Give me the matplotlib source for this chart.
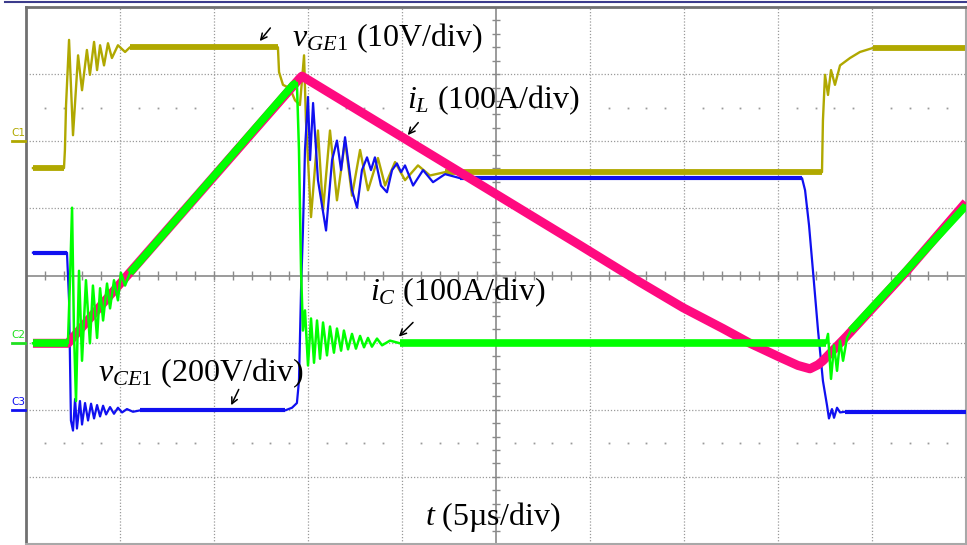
import numpy as np
import matplotlib.pyplot as plt
from matplotlib.lines import Line2D

plt.rcParams['font.family'] = 'Liberation Serif'
plt.rcParams['mathtext.fontset'] = 'custom'
plt.rcParams['mathtext.rm'] = 'Liberation Serif'
plt.rcParams['mathtext.it'] = 'Liberation Serif:italic'

# time in us (5 us/div), levels in screen divisions (8 div tall)
vge_t = [0.37, 2.02, 2.07, 2.13, 2.29, 2.50, 2.77, 2.98, 3.24, 3.40, 3.62, 3.78, 3.94,
         4.15, 4.36, 4.57, 4.89, 5.27, 5.53, 13.40, 13.46, 13.67, 14.04, 14.31, 14.57,
         14.79, 14.89, 15.16, 15.53, 15.80, 16.17, 16.54, 16.97, 17.34, 17.77, 18.19,
         18.72, 19.10, 19.63, 20.16, 20.85, 21.49, 22.29, 42.34, 42.39, 42.50, 42.66,
         42.82, 43.03, 43.30, 43.83, 44.36, 45.05, 50.00]
vge_v = [1.60, 1.60, 1.87, 2.54, 3.51, 2.09, 3.28, 2.76, 3.36, 2.99, 3.48, 3.06, 3.43,
         3.13, 3.46, 3.24, 3.43, 3.33, 3.40, 3.40, 3.03, 2.84, 2.79, 2.61, 2.54,
         3.28, 2.31, 0.87, 2.16, 0.97, 2.16, 1.12, 2.01, 1.19, 1.87, 1.27,
         1.75, 1.34, 1.69, 1.42, 1.64, 1.49, 1.54, 1.54, 2.31, 2.99, 2.69,
         3.06, 2.84, 3.13, 3.24, 3.33, 3.39, 3.39]

vce_t = [0.37, 2.18, 2.29, 2.39, 2.50, 2.61, 2.71, 2.87, 2.98, 3.14, 3.30, 3.46, 3.62,
         3.78, 3.94, 4.10, 4.26, 4.47, 4.68, 4.89, 5.11, 5.37, 5.69, 6.06, 13.78,
         14.15, 14.41, 14.52, 14.63, 14.73, 14.84, 15.00, 15.11, 15.27, 15.53, 15.96,
         16.28, 16.54, 16.76, 16.97, 17.34, 17.61, 17.87, 18.14, 18.35, 18.56, 18.88,
         19.20, 19.47, 19.73, 19.95, 20.16, 20.59, 21.12, 21.65, 22.29, 23.09, 41.28,
         41.44, 41.65, 41.86, 42.13, 42.39, 42.61, 42.71, 42.87, 42.98, 43.14, 43.30,
         43.56, 50.00]
vce_v = [0.34, 0.34, -0.37, -2.16, -2.31, -1.84, -2.28, -1.87, -2.22, -1.90, -2.16, -1.91, -2.13,
         -1.93, -2.10, -1.94, -2.07, -1.96, -2.06, -1.97, -2.04, -1.99, -2.03, -2.01, -2.01,
         -1.97, -1.90, -1.57, -0.22, 0.67, 1.87, 2.66, 1.72, 2.57, 1.42, 0.67,
         1.72, 2.01, 1.57, 2.06, 1.27, 1.01, 1.57, 1.76, 1.57, 1.76, 1.34,
         1.24, 1.57, 1.67, 1.54, 1.64, 1.34, 1.57, 1.39, 1.51, 1.45, 1.45,
         1.27, 0.75, 0.07, -0.82, -1.57, -1.94, -2.13, -1.99, -2.12, -1.97, -2.04,
         -2.03, -2.03]

il_t = [0.37, 2.23, 14.57, 14.68, 29.47, 32.66, 34.95, 37.07, 38.51, 40.11, 41.06,
        41.70, 42.13, 42.39, 43.67, 45.05, 46.86, 50.00]
il_v = [-1.01, -1.01, 2.94, 2.97, 0.45, -0.10, -0.48, -0.79, -1.01, -1.22, -1.34,
        -1.39, -1.33, -1.27, -0.90, -0.48, 0.07, 1.09]

ic_t = [0.37, 2.23, 2.34, 2.45, 2.55, 2.66, 2.82, 2.98, 3.19, 3.40, 3.56, 3.78, 3.94,
        4.10, 4.31, 4.47, 4.68, 4.89, 5.05, 5.27, 5.53, 14.20, 14.41, 14.52, 14.63,
        14.73, 14.84, 15.00, 15.16, 15.32, 15.48, 15.64, 15.80, 16.01, 16.17, 16.38,
        16.54, 16.76, 16.91, 17.13, 17.34, 17.55, 17.77, 17.98, 18.19, 18.40, 18.67,
        18.94, 19.36, 19.89, 42.55, 42.66, 42.82, 42.98, 43.14, 43.30, 43.46, 43.67,
        43.88, 50.00]
ic_v = [-1.01, -1.01, -0.07, 1.01, -0.82, -1.87, 0.07, -1.27, -0.07, -1.01, -0.15, -0.93, -0.19,
        -0.67, -0.12, -0.49, -0.07, -0.37, 0.04, -0.15, 0.04, 2.84, 2.87, 1.87, 0.07,
        -0.82, -0.52, -1.34, -0.64, -1.30, -0.67, -1.24, -0.70, -1.19, -0.76, -1.15,
        -0.79, -1.12, -0.82, -1.10, -0.87, -1.09, -0.90, -1.07, -0.93, -1.06, -0.94,
        -1.04, -0.97, -1.01, -1.01, -0.87, -1.54, -1.04, -1.42, -0.97, -1.27, -0.93,
        -0.82, 1.04]

# quiet (noisy-band) stretches of each trace
vge_bands = [(0.37, 2.02), (5.53, 13.40), (22.29, 42.34), (45.05, 50.0)]
vce_bands = [(0.37, 2.18), (6.06, 13.78), (23.09, 41.28), (43.56, 50.0)]
ic_bands = [(0.37, 2.23), (5.53, 14.41), (19.89, 42.55), (43.88, 50.0)]

OLIVE = '#b0a800'
BLUE = '#1010f0'
PINK = '#ff0a80'
GREEN = '#00ff00'

fig = plt.figure(figsize=(9.67, 5.45), dpi=100)
ax = fig.add_axes([26 / 967, 1 / 545, 940 / 967, 537 / 545])
ax.set_xlim(0, 50)
ax.set_ylim(-4, 4)
ax.set_xticks([])
ax.set_yticks([])
for s in ['top', 'left']:
    ax.spines[s].set_color('#707070')
    ax.spines[s].set_linewidth(2)
for s in ['bottom', 'right']:
    ax.spines[s].set_color('#a8a8a8')
    ax.spines[s].set_linewidth(1.5)

# graticule
grid_kw = dict(color='#9a9a9a', lw=0.9, ls=(0, (1, 1.5)), zorder=1)
for x in [5, 10, 15, 20, 30, 35, 40, 45]:
    ax.axvline(x, **grid_kw)
for y in [-3, -2, -1, 1, 2, 3]:
    ax.axhline(y, **grid_kw)
ax.axvline(25, color='#8a8a8a', lw=1.2, zorder=1)
ax.axhline(0, color='#8a8a8a', lw=1.2, zorder=1)
ticks_t = np.arange(1, 50, 1.0)
ax.vlines(ticks_t, -0.06, 0.06, color='#8a8a8a', lw=1, zorder=1)
ticks_v = np.arange(-3.8, 4.0, 0.2)
ax.hlines(ticks_v, 24.8, 25.2, color='#8a8a8a', lw=1, zorder=1)
dots_t = [t for t in ticks_t if t % 5 != 0]
for y in [-2.5, 2.5]:
    ax.plot(dots_t, [y] * len(dots_t), ls='none', marker='s', ms=1.3,
            color='#9a9a9a', mec='none', zorder=1)


def trace(t, v, color, lw_thin, lw_band, bands, z):
    t = np.asarray(t)
    v = np.asarray(v)
    ax.plot(t, v, color=color, lw=lw_thin, zorder=z)
    for a, b in bands:
        m = (t >= a - 1e-6) & (t <= b + 1e-6)
        ax.plot(t[m], v[m], color=color, lw=lw_band, zorder=z, solid_capstyle='butt')


trace(vge_t, vge_v, OLIVE, 1.7, 4.2, vge_bands, 2)
trace(vce_t, vce_v, BLUE, 1.6, 3.0, vce_bands, 3)
ax.plot(il_t, il_v, color=PINK, lw=6.5, zorder=4, solid_capstyle='butt')
trace(ic_t, ic_v, GREEN, 1.8, 5.5, ic_bands, 5)

# labels
fs = 23
ax.text(14.15, 3.42, r'$v_{GE\mathrm{1}}$ (10V/div)', fontsize=fs, zorder=6)
ax.text(20.27, 2.49, r'$i_{L}$ (100A/div)', fontsize=fs, zorder=6)
ax.text(18.30, -0.37, r'$i_{C}$ (100A/div)', fontsize=fs, zorder=6)
ax.text(3.83, -1.58, r'$v_{CE\mathrm{1}}$ (200V/div)', fontsize=fs, zorder=6)
ax.text(21.22, -3.72, r'$t$ (5µs/div)', fontsize=fs, zorder=6)

arrow_kw = dict(arrowstyle='->', lw=1.1, color='black', mutation_scale=11)
ax.annotate('', xy=(12.34, 3.46), xytext=(13.09, 3.72), arrowprops=arrow_kw, zorder=6)
ax.annotate('', xy=(20.21, 2.06), xytext=(20.96, 2.31), arrowprops=arrow_kw, zorder=6)
ax.annotate('', xy=(19.73, -0.94), xytext=(20.69, -0.67), arrowprops=arrow_kw, zorder=6)
ax.annotate('', xy=(10.85, -1.97), xytext=(11.38, -1.66), arrowprops=arrow_kw, zorder=6)

# channel markers in the left margin
def px(x, y):
    return x / 967, 1 - y / 545

for name, ypix, col in [('C1', 141, OLIVE), ('C2', 343, '#20e020'), ('C3', 410, BLUE)]:
    fig.text(*px(11, ypix - 5), name, fontsize=7.5, color=col,
             family='DejaVu Sans', ha='left', va='baseline')
    x0, y0 = px(12, ypix)
    x1, _ = px(25, ypix)
    fig.add_artist(Line2D([x0, x1], [y0, y0], color=col, lw=2))

# outer frame line at the very top
fig.add_artist(Line2D([5 / 967, 1], [1 - 1.5 / 545] * 2, color='#3c3c8c', lw=1.5))

fig.savefig('out.png', dpi=100)
